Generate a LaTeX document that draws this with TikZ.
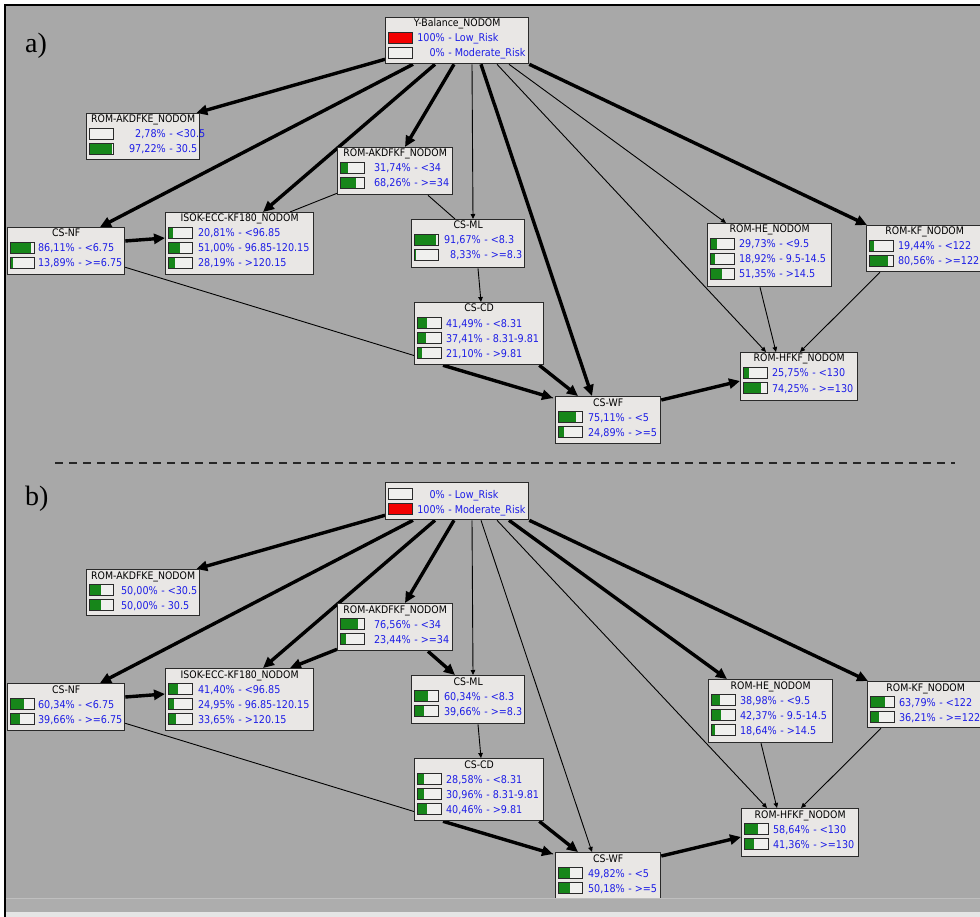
\documentclass[tikz,border=0pt]{standalone}
\usepackage{fontspec}
\setmainfont{DejaVu Sans Condensed}
\newfontfamily\labserif{Liberation Serif}
\usetikzlibrary{arrows.meta,calc}
\definecolor{bggray}{HTML}{A8A8A8}
\definecolor{stripgray}{HTML}{ADADAD}
\definecolor{boxfill}{HTML}{E9E7E5}
\definecolor{boxline}{HTML}{2A2A2A}
\definecolor{valblue}{HTML}{1E1EE6}
\definecolor{bargreen}{HTML}{17861A}
\definecolor{barred}{HTML}{F20000}
\definecolor{barback}{HTML}{F0F0EE}
\pgfdeclarelayer{bglayer}
\pgfdeclarelayer{edgelayer}
\pgfsetlayers{bglayer,edgelayer,main}
\tikzset{
  bnbox/.style={draw=boxline, line width=1.3pt, fill=boxfill, inner sep=0pt, anchor=north west},
  ttl/.style={font=\fontsize{10.4}{11}\selectfont, text=black, inner sep=0pt, anchor=base},
  val/.style={font=\fontsize{10.7}{11}\selectfont, text=valblue, inner sep=0pt},
  barbg/.style={fill=barback},
  barline/.style={draw=boxline, line width=0.8pt},
  thickarr/.style={line width=3.4pt, -{Triangle[length=11pt,width=10pt]}},
  thinarr/.style={line width=0.9pt, -{Triangle[length=5pt,width=4.5pt]}},
  thinline/.style={line width=0.9pt},
  dashline/.style={line width=2pt, dash pattern=on 8pt off 6pt, draw=black!85},
  panellabel/.style={font=\labserif\fontsize{28}{28}\selectfont, inner sep=0pt, anchor=base west}
}
\newcommand\rowbase{21}
\newcommand\bnnode[6]{%
  \node[bnbox, minimum width=#4pt, minimum height=#5pt] (#1) at (#2,#3) {};
  \node[ttl] (#1-t) at ($(#1.north)+(0,10)$) {#6};}
\newcommand\bnrow[7]{%
  \pgfmathsetmacro\ry{\rowbase+15*(#2-1)}%
  \coordinate (#1-b#2) at ($(#1.north west)+(3,\ry-5.5)$);
  \fill[barbg] (#1-b#2) rectangle ++(24,11);
  \fill[#7] (#1-b#2) rectangle ++({24*#3},11);
  \draw[barline] (#1-b#2) rectangle ++(24,11);
  \node[val, anchor=base east] (#1-p#2) at ($(#1.north west)+(#6,\ry+4)$) {#4};
  \node[val, anchor=base west] (#1-l#2) at (#1-p#2.base east) {\ -\ #5};}
\newcommand\bnedges[4]{%
  \draw[thickarr] ([yshift=5pt]Y#1.south west) -- ([xshift=-4pt]AKE#1.north east);
  \draw[thickarr] ([xshift=28pt]Y#1.south west) -- ([xshift=93pt]NF#1.north west);
  \draw[thickarr] ([xshift=50pt]Y#1.south west) -- ([xshift=98pt]ISOK#1.north west);
  \draw[thickarr] ([xshift=69pt]Y#1.south west) -- ([xshift=68pt]AKF#1.north west);
  \draw[thinarr] ([xshift=87pt]Y#1.south west) -- ([xshift=62pt]ML#1.north west);
  \draw[#2] ([xshift=96pt]Y#1.south west) -- ([xshift=37pt]WF#1.north west);
  \draw[thinarr] ([xshift=112pt]Y#1.south west) -- ([xshift=26pt]HFKF#1.north west);
  \draw[#3] ([xshift=124pt]Y#1.south west) -- ([xshift=19pt]HE#1.north west);
  \draw[thickarr] (Y#1.south east) -- ([xshift=1pt]KF#1.north west);
  \draw[#4] ([yshift=2pt]AKF#1.south west) -- ([xshift=125pt]ISOK#1.north west);
  \draw[#4] ([xshift=91pt]AKF#1.south west) -- ([xshift=44pt]ML#1.north west);
  \draw[thickarr] ([yshift=-14pt]NF#1.north east) -- ([yshift=-26pt]ISOK#1.north west);
  \draw[thinline] ([yshift=8pt]NF#1.south east) -- ([xshift=-2pt,yshift=-2pt]WF#1.north west);
  \draw[thickarr] ([xshift=29pt]CD#1.south west) -- ([xshift=-2pt,yshift=-2pt]WF#1.north west);
  \draw[thickarr] ([xshift=-5pt]CD#1.south east) -- ([xshift=23pt]WF#1.north west);
  \draw[thinarr] ([xshift=67pt]ML#1.south west) -- ([xshift=67pt]CD#1.north west);
  \draw[thinarr] ([xshift=53pt]HE#1.south west) -- ([xshift=36pt]HFKF#1.north west);
  \draw[thinarr] ([xshift=14pt]KF#1.south west) -- ([xshift=60pt]HFKF#1.north west);
  \draw[thickarr] ([yshift=-4pt]WF#1.north east) -- ([yshift=-29pt]HFKF#1.north west);}
\begin{document}
\begin{tikzpicture}[x=1pt,y=-1pt]
\useasboundingbox (0,0) rectangle (980,917);
\begin{pgfonlayer}{bglayer}
  \fill[white] (0,0) rectangle (980,917);
  \fill[bggray] (5,5) rectangle (980,917);
\end{pgfonlayer}

% ---------------- panel a ----------------
\node[panellabel] (la) at (25,53) {a)};

\bnnode{Ya}{385}{17}{143}{46}{Y-Balance\_NODOM}
\bnrow{Ya}{1}{1}{100\%}{Low\_Risk}{60}{barred}
\bnrow{Ya}{2}{0}{0\%}{Moderate\_Risk}{60}{bargreen}

\bnnode{AKEa}{86}{113}{113}{46}{ROM-AKDFKE\_NODOM}
\bnrow{AKEa}{1}{0.0278}{2,78\%}{<30.5}{80}{bargreen}
\bnrow{AKEa}{2}{0.9722}{97,22\%}{30.5}{80}{bargreen}

\bnnode{AKFa}{337}{147}{115}{47}{ROM-AKDFKF\_NODOM}
\bnrow{AKFa}{1}{0.3174}{31,74\%}{<34}{74}{bargreen}
\bnrow{AKFa}{2}{0.6826}{68,26\%}{>=34}{74}{bargreen}

\bnnode{ISOKa}{165}{212}{148}{62}{ISOK-ECC-KF180\_NODOM}
\bnrow{ISOKa}{1}{0.2081}{20,81\%}{<96.85}{70}{bargreen}
\bnrow{ISOKa}{2}{0.51}{51,00\%}{96.85-120.15}{70}{bargreen}
\bnrow{ISOKa}{3}{0.2819}{28,19\%}{>120.15}{70}{bargreen}

\bnnode{NFa}{7}{227}{117}{47}{CS-NF}
\bnrow{NFa}{1}{0.8611}{86,11\%}{<6.75}{68}{bargreen}
\bnrow{NFa}{2}{0.1389}{13,89\%}{>=6.75}{68}{bargreen}

\bnnode{MLa}{411}{219}{113}{48}{CS-ML}
\bnrow{MLa}{1}{0.9167}{91,67\%}{<8.3}{70}{bargreen}
\bnrow{MLa}{2}{0.0833}{8,33\%}{>=8.3}{70}{bargreen}

\bnnode{CDa}{414}{302}{129}{62}{CS-CD}
\bnrow{CDa}{1}{0.4149}{41,49\%}{<8.31}{69}{bargreen}
\bnrow{CDa}{2}{0.3741}{37,41\%}{8.31-9.81}{69}{bargreen}
\bnrow{CDa}{3}{0.2110}{21,10\%}{>9.81}{69}{bargreen}

\bnnode{HEa}{707}{223}{124}{63}{ROM-HE\_NODOM}
\bnrow{HEa}{1}{0.2973}{29,73\%}{<9.5}{69}{bargreen}
\bnrow{HEa}{2}{0.1892}{18,92\%}{9.5-14.5}{69}{bargreen}
\bnrow{HEa}{3}{0.5135}{51,35\%}{>14.5}{69}{bargreen}

\bnnode{KFa}{866}{225}{116}{46}{ROM-KF\_NODOM}
\bnrow{KFa}{1}{0.1944}{19,44\%}{<122}{69}{bargreen}
\bnrow{KFa}{2}{0.8056}{80,56\%}{>=122}{69}{bargreen}

\bnnode{HFKFa}{740}{352}{117}{48}{ROM-HFKF\_NODOM}
\bnrow{HFKFa}{1}{0.2575}{25,75\%}{<130}{69}{bargreen}
\bnrow{HFKFa}{2}{0.7425}{74,25\%}{>=130}{69}{bargreen}

\bnnode{WFa}{555}{396}{105}{47}{CS-WF}
\bnrow{WFa}{1}{0.7511}{75,11\%}{<5}{70}{bargreen}
\bnrow{WFa}{2}{0.2489}{24,89\%}{>=5}{70}{bargreen}

\begin{pgfonlayer}{edgelayer}
  \bnedges{a}{thickarr}{thinarr}{thinline}
\end{pgfonlayer}

% separator
\coordinate (sepL) at (55,463);
\coordinate (sepR) at (955,463);
\draw[dashline] (sepL) -- (sepR);

% ---------------- panel b ----------------
\node[panellabel] (lb) at (25,505) {b)};

\node[bnbox, minimum width=143pt, minimum height=37pt] (Yb) at (385,482) {};
\renewcommand\rowbase{12}
\bnrow{Yb}{1}{0}{0\%}{Low\_Risk}{60}{bargreen}
\bnrow{Yb}{2}{1}{100\%}{Moderate\_Risk}{60}{barred}
\renewcommand\rowbase{21}

\bnnode{AKEb}{86}{569}{113}{46}{ROM-AKDFKE\_NODOM}
\bnrow{AKEb}{1}{0.5}{50,00\%}{<30.5}{72}{bargreen}
\bnrow{AKEb}{2}{0.5}{50,00\%}{30.5}{72}{bargreen}

\bnnode{AKFb}{337}{603}{115}{47}{ROM-AKDFKF\_NODOM}
\bnrow{AKFb}{1}{0.7656}{76,56\%}{<34}{74}{bargreen}
\bnrow{AKFb}{2}{0.2344}{23,44\%}{>=34}{74}{bargreen}

\bnnode{ISOKb}{165}{668}{148}{62}{ISOK-ECC-KF180\_NODOM}
\bnrow{ISOKb}{1}{0.4140}{41,40\%}{<96.85}{70}{bargreen}
\bnrow{ISOKb}{2}{0.2495}{24,95\%}{96.85-120.15}{70}{bargreen}
\bnrow{ISOKb}{3}{0.3365}{33,65\%}{>120.15}{70}{bargreen}

\bnnode{NFb}{7}{683}{117}{47}{CS-NF}
\bnrow{NFb}{1}{0.6034}{60,34\%}{<6.75}{68}{bargreen}
\bnrow{NFb}{2}{0.3966}{39,66\%}{>=6.75}{68}{bargreen}

\bnnode{MLb}{411}{675}{113}{48}{CS-ML}
\bnrow{MLb}{1}{0.6034}{60,34\%}{<8.3}{70}{bargreen}
\bnrow{MLb}{2}{0.3966}{39,66\%}{>=8.3}{70}{bargreen}

\bnnode{CDb}{414}{758}{129}{62}{CS-CD}
\bnrow{CDb}{1}{0.2858}{28,58\%}{<8.31}{69}{bargreen}
\bnrow{CDb}{2}{0.3096}{30,96\%}{8.31-9.81}{69}{bargreen}
\bnrow{CDb}{3}{0.4046}{40,46\%}{>9.81}{69}{bargreen}

\bnnode{HEb}{708}{679}{124}{63}{ROM-HE\_NODOM}
\bnrow{HEb}{1}{0.3898}{38,98\%}{<9.5}{69}{bargreen}
\bnrow{HEb}{2}{0.4237}{42,37\%}{9.5-14.5}{69}{bargreen}
\bnrow{HEb}{3}{0.1864}{18,64\%}{>14.5}{69}{bargreen}

\bnnode{KFb}{867}{681}{116}{46}{ROM-KF\_NODOM}
\bnrow{KFb}{1}{0.6379}{63,79\%}{<122}{69}{bargreen}
\bnrow{KFb}{2}{0.3621}{36,21\%}{>=122}{69}{bargreen}

\bnnode{HFKFb}{741}{808}{117}{48}{ROM-HFKF\_NODOM}
\bnrow{HFKFb}{1}{0.5864}{58,64\%}{<130}{69}{bargreen}
\bnrow{HFKFb}{2}{0.4136}{41,36\%}{>=130}{69}{bargreen}

\bnnode{WFb}{555}{852}{105}{47}{CS-WF}
\bnrow{WFb}{1}{0.4982}{49,82\%}{<5}{70}{bargreen}
\bnrow{WFb}{2}{0.5018}{50,18\%}{>=5}{70}{bargreen}

\begin{pgfonlayer}{edgelayer}
  \bnedges{b}{thinarr}{thickarr}{thickarr}
\end{pgfonlayer}

% bottom window strip and frame
\fill[stripgray] (5,898) rectangle (980,912);
\fill[black!10] (5,912) rectangle (980,917);
\draw[line width=0.8pt, draw=black!25] (5,898) -- (980,898);
\fill[black] (4,4) rectangle (980,6.2);
\fill[black] (4,4) rectangle (6.2,917);
\end{tikzpicture}
\end{document}
